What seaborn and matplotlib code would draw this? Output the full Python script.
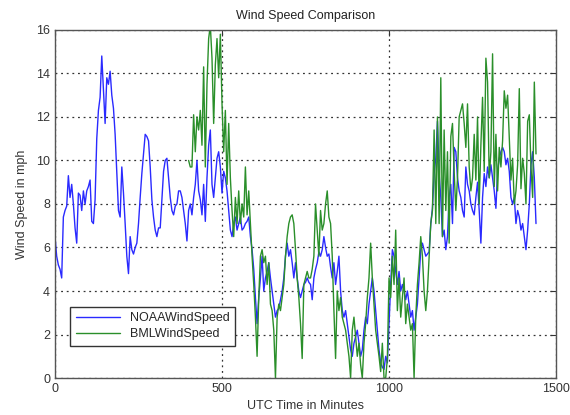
import numpy as np
import pandas as pd
import matplotlib
matplotlib.use("Agg")
import matplotlib.pyplot as plt
import seaborn as sns

# NOAA wind speed (mph), one reading every 5 minutes from t=0
noaa_speed = [
    6.5, 5.6, 5.2, 5.0, 4.6, 7.4, 7.7, 7.9, 9.3, 8.3, 8.9, 8.0, 6.9, 6.2, 8.5, 8.4, 7.7, 8.6, 8.0, 8.6,
    8.8, 9.1, 7.2, 7.1, 8.2, 11.0, 12.3, 12.9, 14.8, 13.2, 11.7, 13.8, 13.5, 14.1, 13.0, 12.4, 11.2, 9.5, 7.7, 7.4,
    9.7, 8.5, 7.1, 5.6, 4.8, 6.5, 5.9, 5.7, 6.0, 6.2, 7.1, 8.3, 9.4, 10.3, 11.2, 11.1, 10.9, 9.7, 8.2, 7.4,
    6.8, 6.5, 6.9, 6.9, 8.2, 9.5, 10.0, 10.1, 9.2, 8.3, 7.7, 7.5, 7.9, 8.0, 8.6,
    8.6, 8.3, 7.7, 7.1, 6.3, 7.7, 8.0, 7.5, 8.3, 8.9, 10.0, 8.6, 8.2, 7.5, 8.9, 7.2, 9.2, 10.7, 11.4, 8.9,
    8.3, 9.2, 10.1, 10.4, 9.7, 8.5, 9.5, 9.2, 8.6, 7.7, 6.8, 6.5, 7.1, 7.4, 6.8, 7.1, 7.4, 6.8, 6.9, 7.1,
    7.2, 7.4, 6.5, 5.9, 5.0, 3.7, 2.5, 3.7, 4.6, 5.6, 4.0, 4.6, 4.9, 5.3, 4.6, 4.0, 3.4, 2.8, 3.1, 3.2,
    3.6, 4.0, 4.6, 5.6, 6.2, 5.6, 5.9, 5.3, 4.6, 5.3, 4.6, 4.0, 3.7, 4.0, 4.3,
    4.4, 4.6, 4.4, 4.3, 3.6, 4.6, 5.0, 5.3, 5.8, 5.6, 5.9, 6.5, 6.0, 5.6, 5.7, 5.1, 4.6, 5.3, 4.3, 4.9,
    5.6, 4.0, 3.1, 2.8, 3.1, 2.5, 1.9, 1.3, 1.0, 1.6, 1.9, 2.2, 1.6, 1.0, 1.3, 2.2, 2.8, 2.5, 3.4, 4.0,
    4.6, 4.0, 3.1, 2.2, 1.3, 0.7, 0.5, 0.4, 1.0, 0.7, 2.5, 4.3, 5.9, 5.6, 4.9, 4.3, 4.9, 4.0, 4.3, 4.0,
    3.6, 4.0, 3.4, 2.8, 3.1, 2.2, 2.8, 3.4, 4.6, 5.9, 6.2, 5.9, 5.6, 5.7, 5.8,
    7.1, 7.8, 9.4, 10.1, 11.8, 9.4, 8.3, 6.5, 6.8, 5.9, 6.5, 8.3, 8.9, 7.1, 10.6, 10.4, 9.2, 8.6, 8.3, 7.7,
    7.4, 9.7, 8.9, 8.6, 8.0, 7.7, 7.5, 8.3, 9.0, 7.7, 6.2, 8.3, 9.4, 8.8, 9.7, 9.2, 9.8, 9.2, 8.6, 7.8,
    9.5, 10.1, 10.4, 10.6, 10.4, 9.8, 10.1, 9.5, 8.3, 8.0, 8.3, 7.1, 7.7, 7.4, 6.8, 7.1, 6.5, 5.9, 6.8, 8.0,
    9.8, 10.4, 9.2, 7.1,
]
noaa_start = 0

# BML wind speed (mph), one reading every 5 minutes from t=400
bml_speed = [
    10.0, 9.7, 9.7, 12.1, 10.4, 12.0, 11.4, 12.3, 10.7, 14.3, 9.7, 13.5, 15.6, 16.2, 14.7, 11.7, 14.4, 15.6, 13.8, 15.8,
    12.6, 10.4, 12.3, 8.9, 11.7, 9.2, 7.7, 6.5, 8.3, 7.1, 8.6, 7.1, 8.0, 7.4, 9.7, 7.5, 8.6, 7.1, 5.6, 4.3,
    2.8, 1.0, 3.7, 5.6, 5.9, 5.3, 5.6, 4.3, 5.3, 3.4, 3.1, 2.2, 0.0, 2.8, 3.4, 3.1, 3.7, 4.3, 5.6, 6.5,
    7.1, 7.4, 7.5, 7.1, 5.9, 4.6, 3.7, 2.5, 0.9, 4.3, 4.6, 4.9, 4.6, 4.6, 5.0, 5.6, 8.0, 6.8, 5.6, 7.7,
    6.8, 7.1, 8.0, 8.6, 7.4, 7.1, 5.6, 3.1, 0.9, 4.0, 3.1, 3.7, 2.8, 2.5, 2.2, 1.6, 1.0, 0.0, 2.2, 2.8,
    1.9, 1.0, 1.6, 0.6, 0.0, 1.6, 2.5, 3.7, 4.6, 6.2, 4.6, 3.4, 2.2, 1.6, 1.0, 0.3, 1.6, 0.0, 0.0, 0.9,
    4.6, 3.7, 5.6, 4.3, 6.8, 3.1, 4.6, 2.8, 3.7, 4.6, 2.5, 3.4, 2.8, 2.2, 2.5, 0.0, 2.8, 4.3, 5.3, 6.5,
    5.6, 4.0, 3.1, 4.0, 5.6, 7.1, 7.7, 11.4, 7.1, 12.0, 7.1, 13.8, 6.5, 11.4, 7.7, 10.4, 6.2, 11.1, 11.7, 9.5,
    7.7, 9.2, 12.0, 12.3, 12.6, 11.7, 10.6, 12.6, 9.7, 8.6, 9.2, 11.2, 9.1, 12.0, 8.0, 10.7, 12.9, 9.5, 14.7, 13.6,
    9.2, 10.4, 14.9, 8.8, 11.2, 8.6, 10.6, 9.7, 10.9, 13.2, 12.4, 13.0, 11.0, 9.1, 10.1, 8.0, 8.6, 9.8, 13.3, 8.7,
    10.1, 9.4, 8.0, 11.8, 12.1, 9.7, 8.3, 13.6, 10.3,
]
bml_start = 400
step_minutes = 5

x_ticks = [0, 500, 1000, 1500]
y_ticks = [0, 2, 4, 6, 8, 10, 12, 14, 16]

noaa = pd.DataFrame({
    "minute": noaa_start + step_minutes * np.arange(len(noaa_speed)),
    "speed": noaa_speed,
})
bml = pd.DataFrame({
    "minute": bml_start + step_minutes * np.arange(len(bml_speed)),
    "speed": bml_speed,
})

sns.set_style("white")
plt.rcParams['font.family'] = ['Liberation Sans', 'DejaVu Sans']

fig = plt.figure(figsize=(5.7, 4.15), dpi=100)
ax = fig.add_axes([0.0965, 0.089, 0.879, 0.839])

sns.lineplot(data=noaa, x="minute", y="speed", ax=ax, color="#2a2aff",
             linewidth=1.0, errorbar=None, label="NOAAWindSpeed")
sns.lineplot(data=bml, x="minute", y="speed", ax=ax, color="#2a8f2a",
             linewidth=1.0, errorbar=None, label="BMLWindSpeed")

ax.set_xlim(0, 1500)
ax.set_ylim(0, 16)
ax.set_xticks(x_ticks)
ax.set_yticks(y_ticks)
ax.tick_params(direction="in", length=4, labelsize=9, colors="#333333",
               top=True, right=True)
ax.grid(True, color="#333333", linestyle=(0, (1.5, 3)), linewidth=0.9)
for sp in ax.spines.values():
    sp.set_color("#555555")
    sp.set_linewidth(1.0)

ax.set_title("Wind Speed Comparison", fontsize=9, color="#222222", pad=8)
ax.set_xlabel("UTC Time in Minutes", fontsize=9, color="#333333", labelpad=4)
ax.set_ylabel("Wind Speed in mph", fontsize=9, color="#333333", labelpad=6)

leg = ax.legend(loc="lower left", bbox_to_anchor=(0.018, 0.075), fontsize=9,
                fancybox=False, framealpha=1, edgecolor="#333333",
                handlelength=3.5, borderpad=0.45, labelspacing=0.3)
leg.get_frame().set_linewidth(1.0)

fig.savefig("out.png", dpi=100)
